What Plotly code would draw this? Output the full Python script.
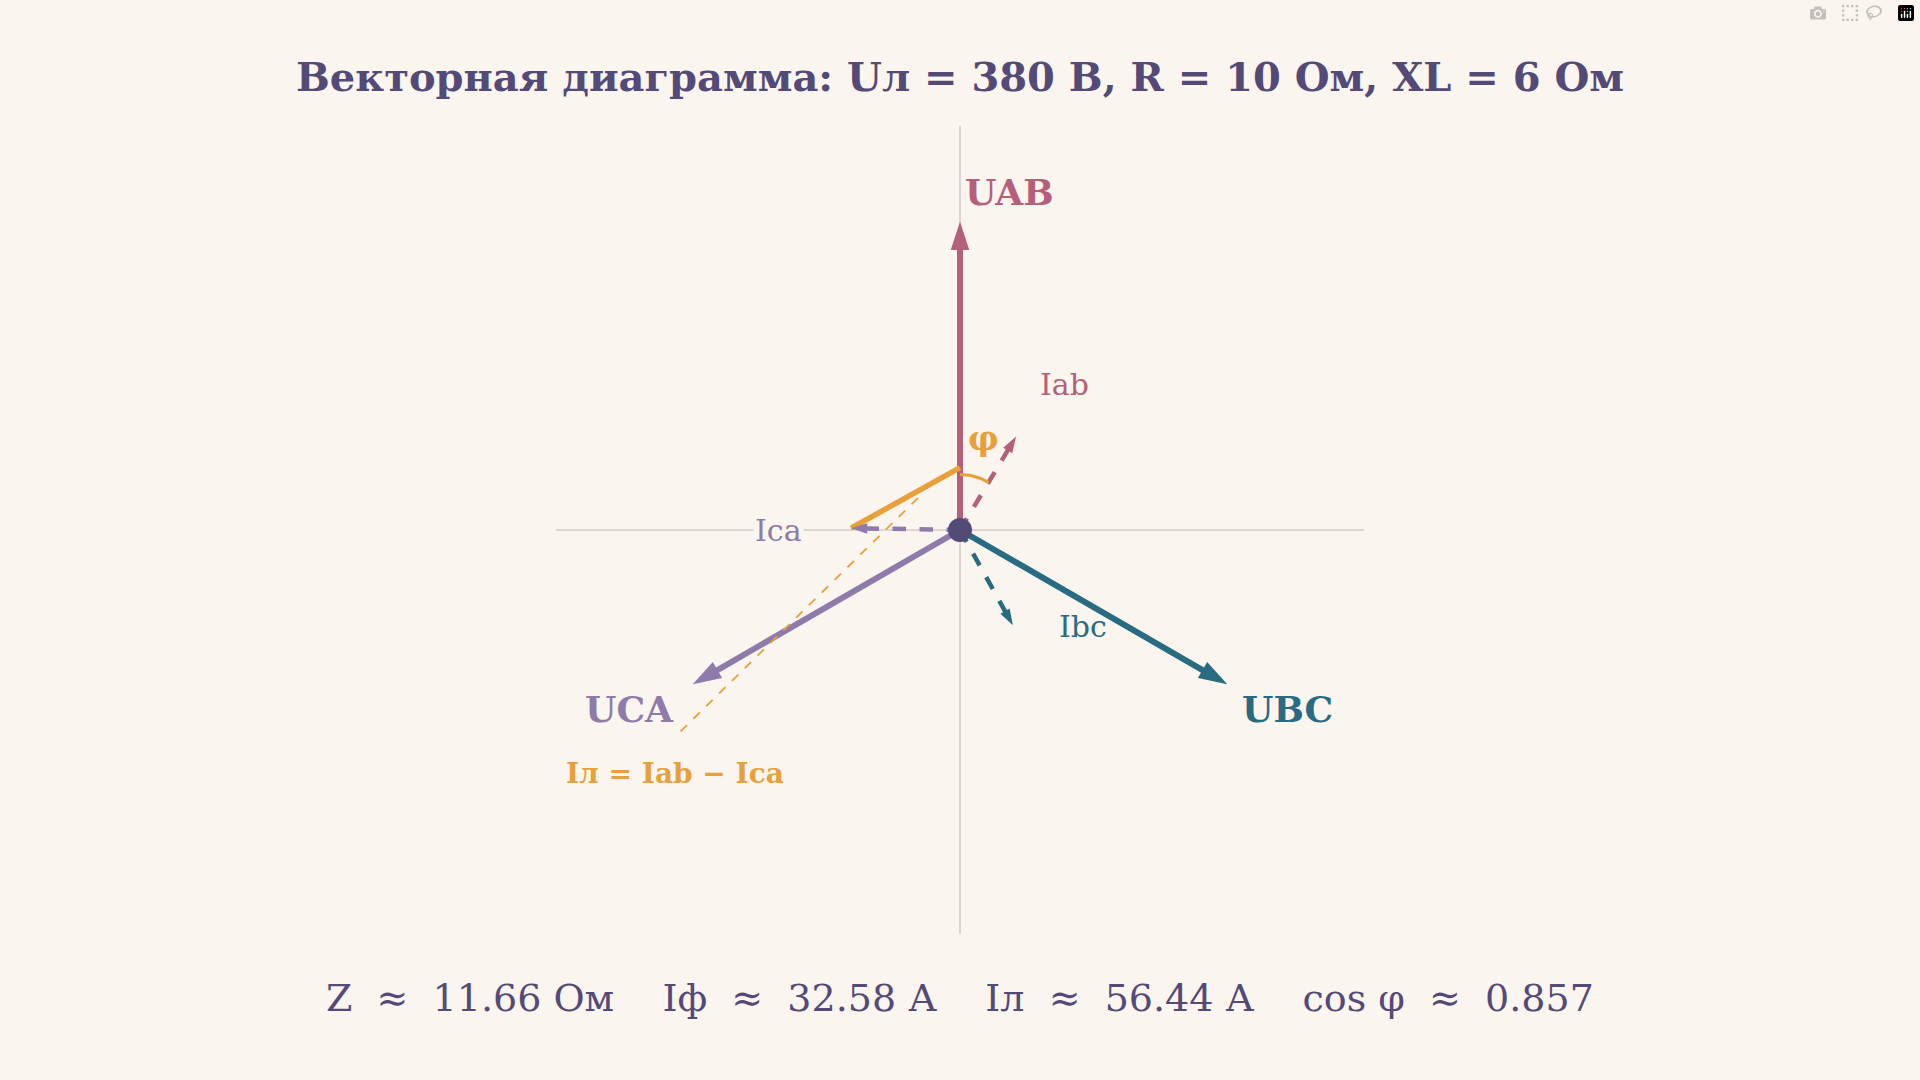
import numpy as np
import plotly.graph_objects as go

# ---- data ----
U_line = 380.0
R = 10.0
XL = 6.0
Z = 11.66
I_phase = 32.58
I_line = 56.44
cos_phi = 0.857
phi_deg = 30.96

v_names = ["UAB", "UBC", "UCA"]
v_angles = [90, -30, 210]
i_names = ["Iab", "Ibc", "Ica"]
i_angles = [90 - phi_deg, -30 - phi_deg, 210 - phi_deg]
v_colors = ["#B5607A", "#2A6B84", "#8E7BAB"]
orange = "#E9A03A"
ink = "#544A78"
bg = "#FAF5EE"

kv = 1.0 / U_line          # voltage vector scale
ki = 0.353 / I_phase       # current vector scale

def vec(mag, ang):
    a = np.radians(ang)
    return mag * np.cos(a), mag * np.sin(a)

fig = go.Figure()
L = 1.31
fig.add_trace(go.Scatter(x=[-L, L], y=[0, 0], mode="lines", line=dict(color="#D3CBCD", width=1.5), hoverinfo="skip"))
fig.add_trace(go.Scatter(x=[0, 0], y=[-L, L], mode="lines", line=dict(color="#D3CBCD", width=1.5), hoverinfo="skip"))

for n, a, c in zip(v_names, v_angles, v_colors):
    x, y = vec(U_line * kv, a)
    fig.add_trace(go.Scatter(x=[0, x], y=[0, y], mode="lines+markers",
                             line=dict(color=c, width=6),
                             marker=dict(symbol="arrow", size=[0, 30], angleref="previous", color=c,
                                         opacity=1, line=dict(width=0)),
                             hoverinfo="skip"))

xa, ya = vec(I_phase * ki, i_angles[0])
xc, yc = vec(I_phase * ki, i_angles[2])
t = (0 - xc) / (xa - xc)
fig.add_trace(go.Scatter(x=[xc, xc + t * (xa - xc)], y=[yc, yc + t * (ya - yc)], mode="lines",
                         line=dict(color=orange, width=5.5), hoverinfo="skip"))
fig.add_trace(go.Scatter(x=[-0.136, -0.908], y=[0.104, -0.655], mode="lines",
                         line=dict(color=orange, width=1.8, dash="dash"), hoverinfo="skip"))

for n, a, c in zip(i_names, i_angles, v_colors):
    x, y = vec(I_phase * ki, a)
    fig.add_trace(go.Scatter(x=[0, x], y=[0, y], mode="lines+markers",
                             line=dict(color=c, width=4.5, dash="dash"),
                             marker=dict(symbol="arrow", size=[0, 17], angleref="previous", color=c,
                                         opacity=1, line=dict(width=0)),
                             hoverinfo="skip"))

th = np.radians(np.linspace(90, i_angles[0], 20))
fig.add_trace(go.Scatter(x=0.18 * np.cos(th), y=0.18 * np.sin(th), mode="lines",
                         line=dict(color=orange, width=3), hoverinfo="skip"))

fig.add_trace(go.Scatter(x=[0], y=[0], mode="markers", marker=dict(color=ink, size=24), hoverinfo="skip"))

F = "DejaVu Serif"
def lab(x, y, txt, color, size, bold=False, bgc=None):
    fig.add_annotation(x=x, y=y, text=f"<b>{txt}</b>" if bold else txt, showarrow=False,
                       font=dict(family=F, size=size, color=color), bgcolor=bgc)

lab(0.159, 1.095, "UAB", v_colors[0], 36, True)
lab(1.060, -0.580, "UBC", v_colors[1], 36, True)
lab(-1.071, -0.580, "UCA", v_colors[2], 36, True)
lab(0.337, 0.472, "Iab", v_colors[0], 30)
lab(0.397, -0.313, "Ibc", v_colors[1], 30)
lab(-0.587, 0.0, "Ica", v_colors[2], 30, bgc=bg)
lab(0.075, 0.298, "φ", orange, 34, True)
lab(-0.925, -0.79, "Iл = Iab − Ica", orange, 28, True)

fig.add_annotation(xref="paper", yref="paper", x=0.5, y=1 - 76 / 1080, yanchor="middle",
                   text="<b>Векторная диаграмма: Uл = 380 В, R = 10 Ом, XL = 6 Ом</b>",
                   showarrow=False, font=dict(family=F, size=40, color=ink))
fig.add_annotation(xref="paper", yref="paper", x=0.5, y=1 - 998 / 1080, yanchor="middle",
                   text=f"Z  ≈  {Z:.2f} Ом    Iф  ≈  {I_phase:.2f} А    Iл  ≈  {I_line:.2f} А    cos φ  ≈  {cos_phi:.3f}",
                   showarrow=False, font=dict(family=F, size=38, color=ink))

s = 308.6
fig.update_layout(width=1920, height=1080, margin=dict(l=0, r=0, t=0, b=0),
                  paper_bgcolor=bg, plot_bgcolor=bg, showlegend=False,
                  xaxis=dict(range=[-960 / s, 960 / s], visible=False, fixedrange=True),
                  yaxis=dict(range=[-550 / s, 530 / s], visible=False, fixedrange=True))
fig.write_html("out.html",
               post_script="document.body.style.margin='0';document.body.style.background='#FAF5EE';document.body.style.overflow='hidden';")
